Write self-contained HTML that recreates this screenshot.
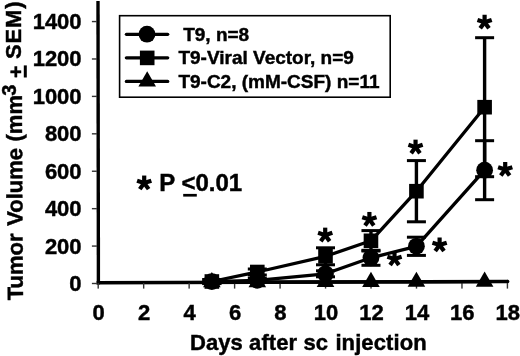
<!DOCTYPE html>
<html><head><meta charset="utf-8"><style>
html,body{margin:0;padding:0;background:#fff;}
body{width:520px;height:356px;overflow:hidden;}
svg{display:block;will-change:transform;}
.t{font-family:"Liberation Sans",sans-serif;font-weight:bold;fill:#000;stroke:#000;stroke-width:0.45px;}
</style></head><body>
<svg width="520" height="356" viewBox="0 0 520 356">
<polygon points="96.3,1 99.7,1 100.1,284.6 96.7,284.6" fill="#000"/>
<polygon points="96.6,280.9 508.2,279.8 508.2,283.3 96.6,284.6" fill="#000"/>
<circle cx="507.6" cy="281.55" r="1.75" fill="#000"/>
<rect x="91.9" y="282.80" width="5" height="1.4" fill="#333"/>
<text x="81.6" y="291.00" text-anchor="end" class="t" font-size="22">0</text>
<rect x="91.9" y="245.38" width="5" height="1.4" fill="#333"/>
<text x="81.6" y="253.58" text-anchor="end" class="t" font-size="22">200</text>
<rect x="91.9" y="207.96" width="5" height="1.4" fill="#333"/>
<text x="81.6" y="216.16" text-anchor="end" class="t" font-size="22">400</text>
<rect x="91.9" y="170.54" width="5" height="1.4" fill="#333"/>
<text x="81.6" y="178.74" text-anchor="end" class="t" font-size="22">600</text>
<rect x="91.9" y="133.12" width="5" height="1.4" fill="#333"/>
<text x="81.6" y="141.32" text-anchor="end" class="t" font-size="22">800</text>
<rect x="91.9" y="95.70" width="5" height="1.4" fill="#333"/>
<text x="81.6" y="103.90" text-anchor="end" class="t" font-size="22">1000</text>
<rect x="91.9" y="58.28" width="5" height="1.4" fill="#333"/>
<text x="81.6" y="66.48" text-anchor="end" class="t" font-size="22">1200</text>
<rect x="91.9" y="20.86" width="5" height="1.4" fill="#333"/>
<text x="81.6" y="29.06" text-anchor="end" class="t" font-size="22">1400</text>
<rect x="97.50" y="283" width="1.4" height="5.6" fill="#333"/>
<text x="98.60" y="319.6" text-anchor="middle" class="t" font-size="22">0</text>
<rect x="142.97" y="283" width="1.4" height="5.6" fill="#333"/>
<text x="144.07" y="319.6" text-anchor="middle" class="t" font-size="22">2</text>
<rect x="188.44" y="283" width="1.4" height="5.6" fill="#333"/>
<text x="189.54" y="319.6" text-anchor="middle" class="t" font-size="22">4</text>
<rect x="233.91" y="283" width="1.4" height="5.6" fill="#333"/>
<text x="235.01" y="319.6" text-anchor="middle" class="t" font-size="22">6</text>
<rect x="279.38" y="283" width="1.4" height="5.6" fill="#333"/>
<text x="280.48" y="319.6" text-anchor="middle" class="t" font-size="22">8</text>
<rect x="324.85" y="283" width="1.4" height="5.6" fill="#333"/>
<text x="325.95" y="319.6" text-anchor="middle" class="t" font-size="22">10</text>
<rect x="370.32" y="283" width="1.4" height="5.6" fill="#333"/>
<text x="371.42" y="319.6" text-anchor="middle" class="t" font-size="22">12</text>
<rect x="415.79" y="283" width="1.4" height="5.6" fill="#333"/>
<text x="416.89" y="319.6" text-anchor="middle" class="t" font-size="22">14</text>
<rect x="461.26" y="283" width="1.4" height="5.6" fill="#333"/>
<text x="462.36" y="319.6" text-anchor="middle" class="t" font-size="22">16</text>
<rect x="506.73" y="283" width="1.4" height="5.6" fill="#333"/>
<text x="507.83" y="319.6" text-anchor="middle" class="t" font-size="22">18</text>
<text x="189.9" y="350.2" class="t" font-size="22" letter-spacing="0.1">Days after sc <tspan dx="1">injection</tspan></text>
<text transform="translate(22.9,300.24) rotate(-90.3)" class="t" font-size="22">Tumor<tspan dx="1.5"> Volume</tspan><tspan dx="0.4"> (mm</tspan></text>
<text transform="translate(16.2,95.7) rotate(-90)" class="t" font-size="20">3</text>
<text transform="translate(22.9,78.0) rotate(-90)" class="t" font-size="21">+</text>
<rect x="23.8" y="65.4" width="3.0" height="12.1" fill="#000"/>
<text transform="translate(21.3,58.9) rotate(-90)" class="t" font-size="22" letter-spacing="0.8">SEM)</text>
<polyline points="211.85,282.20 257.31,282.10 325.50,282.00 370.96,281.90 416.42,281.80 484.61,281.60" fill="none" stroke="#000" stroke-width="3.3" stroke-linejoin="round"/>
<polyline points="211.85,281.60 257.31,280.30 325.50,273.80 370.96,257.80 416.42,246.30 484.61,170.20" fill="none" stroke="#000" stroke-width="3.3" stroke-linejoin="round"/>
<polyline points="211.85,281.50 257.31,272.00 325.50,256.30 370.96,240.80 416.42,191.20 484.61,107.20" fill="none" stroke="#000" stroke-width="3.3" stroke-linejoin="round"/>
<line x1="211.85" y1="279.50" x2="211.85" y2="283.50" stroke="#000" stroke-width="3.4"/><line x1="202.35" y1="279.50" x2="221.35" y2="279.50" stroke="#000" stroke-width="3"/><line x1="202.35" y1="283.50" x2="221.35" y2="283.50" stroke="#000" stroke-width="3"/>
<line x1="257.31" y1="269.00" x2="257.31" y2="275.00" stroke="#000" stroke-width="3.4"/><line x1="247.81" y1="269.00" x2="266.81" y2="269.00" stroke="#000" stroke-width="3"/><line x1="247.81" y1="275.00" x2="266.81" y2="275.00" stroke="#000" stroke-width="3"/>
<line x1="325.50" y1="247.80" x2="325.50" y2="264.80" stroke="#000" stroke-width="3.4"/><line x1="316.00" y1="247.80" x2="335.00" y2="247.80" stroke="#000" stroke-width="3"/><line x1="316.00" y1="264.80" x2="335.00" y2="264.80" stroke="#000" stroke-width="3"/>
<line x1="370.96" y1="230.60" x2="370.96" y2="251.00" stroke="#000" stroke-width="3.4"/><line x1="361.46" y1="230.60" x2="380.46" y2="230.60" stroke="#000" stroke-width="3"/><line x1="361.46" y1="251.00" x2="380.46" y2="251.00" stroke="#000" stroke-width="3"/>
<line x1="416.42" y1="160.60" x2="416.42" y2="221.80" stroke="#000" stroke-width="3.4"/><line x1="406.92" y1="160.60" x2="425.92" y2="160.60" stroke="#000" stroke-width="3"/><line x1="406.92" y1="221.80" x2="425.92" y2="221.80" stroke="#000" stroke-width="3"/>
<line x1="484.61" y1="37.70" x2="484.61" y2="176.70" stroke="#000" stroke-width="3.4"/><line x1="475.11" y1="37.70" x2="494.11" y2="37.70" stroke="#000" stroke-width="3"/><line x1="475.11" y1="176.70" x2="494.11" y2="176.70" stroke="#000" stroke-width="3"/>
<line x1="211.85" y1="279.60" x2="211.85" y2="283.60" stroke="#000" stroke-width="3.4"/><line x1="202.35" y1="279.60" x2="221.35" y2="279.60" stroke="#000" stroke-width="3"/><line x1="202.35" y1="283.60" x2="221.35" y2="283.60" stroke="#000" stroke-width="3"/>
<line x1="257.31" y1="278.30" x2="257.31" y2="282.30" stroke="#000" stroke-width="3.4"/><line x1="247.81" y1="278.30" x2="266.81" y2="278.30" stroke="#000" stroke-width="3"/><line x1="247.81" y1="282.30" x2="266.81" y2="282.30" stroke="#000" stroke-width="3"/>
<line x1="325.50" y1="270.80" x2="325.50" y2="276.80" stroke="#000" stroke-width="3.4"/><line x1="316.00" y1="270.80" x2="335.00" y2="270.80" stroke="#000" stroke-width="3"/><line x1="316.00" y1="276.80" x2="335.00" y2="276.80" stroke="#000" stroke-width="3"/>
<line x1="370.96" y1="250.30" x2="370.96" y2="265.30" stroke="#000" stroke-width="3.4"/><line x1="361.46" y1="250.30" x2="380.46" y2="250.30" stroke="#000" stroke-width="3"/><line x1="361.46" y1="265.30" x2="380.46" y2="265.30" stroke="#000" stroke-width="3"/>
<line x1="416.42" y1="237.20" x2="416.42" y2="255.40" stroke="#000" stroke-width="3.4"/><line x1="406.92" y1="237.20" x2="425.92" y2="237.20" stroke="#000" stroke-width="3"/><line x1="406.92" y1="255.40" x2="425.92" y2="255.40" stroke="#000" stroke-width="3"/>
<line x1="484.61" y1="140.70" x2="484.61" y2="199.70" stroke="#000" stroke-width="3.4"/><line x1="475.11" y1="140.70" x2="494.11" y2="140.70" stroke="#000" stroke-width="3"/><line x1="475.11" y1="199.70" x2="494.11" y2="199.70" stroke="#000" stroke-width="3"/>
<polygon points="211.85,272.07 220.65,287.27 203.05,287.27" fill="#000"/>
<polygon points="257.31,271.97 266.11,287.17 248.51,287.17" fill="#000"/>
<polygon points="325.50,271.87 334.30,287.07 316.70,287.07" fill="#000"/>
<polygon points="370.96,271.77 379.76,286.97 362.16,286.97" fill="#000"/>
<polygon points="416.42,271.67 425.22,286.87 407.62,286.87" fill="#000"/>
<polygon points="484.61,271.47 493.41,286.67 475.81,286.67" fill="#000"/>
<circle cx="211.85" cy="281.60" r="8.4" fill="#000"/>
<circle cx="257.31" cy="280.30" r="8.4" fill="#000"/>
<circle cx="325.50" cy="273.80" r="8.4" fill="#000"/>
<circle cx="370.96" cy="257.80" r="8.4" fill="#000"/>
<circle cx="416.42" cy="246.30" r="8.4" fill="#000"/>
<circle cx="484.61" cy="170.20" r="8.4" fill="#000"/>
<rect x="204.55" y="274.20" width="14.6" height="14.6" fill="#000"/>
<rect x="250.01" y="264.70" width="14.6" height="14.6" fill="#000"/>
<rect x="318.20" y="249.00" width="14.6" height="14.6" fill="#000"/>
<rect x="363.66" y="233.50" width="14.6" height="14.6" fill="#000"/>
<rect x="409.12" y="183.90" width="14.6" height="14.6" fill="#000"/>
<rect x="477.31" y="99.90" width="14.6" height="14.6" fill="#000"/>
<g fill="#000"><polygon points="486.70,23.25 486.70,14.75 482.50,14.75 482.50,23.25"/><polygon points="484.30,24.56 492.38,21.93 491.08,17.93 483.00,20.56"/><polygon points="482.31,22.67 487.31,29.55 490.71,27.08 485.71,20.21"/><polygon points="483.49,20.21 478.49,27.08 481.89,29.55 486.89,22.67"/><polygon points="486.20,20.56 478.12,17.93 476.82,21.93 484.90,24.56"/><circle cx="484.60" cy="22.25" r="2.60"/></g>
<g fill="#000"><polygon points="507.30,170.50 507.30,162.00 503.10,162.00 503.10,170.50"/><polygon points="504.90,171.81 512.98,169.18 511.68,165.18 503.60,167.81"/><polygon points="502.91,169.92 507.91,176.80 511.31,174.33 506.31,167.46"/><polygon points="504.09,167.46 499.09,174.33 502.49,176.80 507.49,169.92"/><polygon points="506.80,167.81 498.72,165.18 497.42,169.18 505.50,171.81"/><circle cx="505.20" cy="169.50" r="2.60"/></g>
<g fill="#000"><polygon points="417.65,148.15 417.65,139.65 413.45,139.65 413.45,148.15"/><polygon points="415.25,149.46 423.33,146.83 422.03,142.83 413.95,145.46"/><polygon points="413.26,147.57 418.26,154.45 421.66,151.98 416.66,145.11"/><polygon points="414.44,145.11 409.44,151.98 412.84,154.45 417.84,147.57"/><polygon points="417.15,145.46 409.07,142.83 407.77,146.83 415.85,149.46"/><circle cx="415.55" cy="147.15" r="2.60"/></g>
<g fill="#000"><polygon points="441.70,246.00 441.70,237.50 437.50,237.50 437.50,246.00"/><polygon points="439.30,247.31 447.38,244.68 446.08,240.68 438.00,243.31"/><polygon points="437.31,245.42 442.31,252.30 445.71,249.83 440.71,242.96"/><polygon points="438.49,242.96 433.49,249.83 436.89,252.30 441.89,245.42"/><polygon points="441.20,243.31 433.12,240.68 431.82,244.68 439.90,247.31"/><circle cx="439.60" cy="245.00" r="2.60"/></g>
<g fill="#000"><polygon points="371.50,220.45 371.50,211.95 367.30,211.95 367.30,220.45"/><polygon points="369.10,221.76 377.18,219.13 375.88,215.13 367.80,217.76"/><polygon points="367.11,219.87 372.11,226.75 375.51,224.28 370.51,217.41"/><polygon points="368.29,217.41 363.29,224.28 366.69,226.75 371.69,219.87"/><polygon points="371.00,217.76 362.92,215.13 361.62,219.13 369.70,221.76"/><circle cx="369.40" cy="219.45" r="2.60"/></g>
<g fill="#000"><polygon points="396.60,259.95 396.60,251.45 392.40,251.45 392.40,259.95"/><polygon points="394.20,261.26 402.28,258.63 400.98,254.63 392.90,257.26"/><polygon points="392.21,259.37 397.21,266.25 400.61,263.78 395.61,256.91"/><polygon points="393.39,256.91 388.39,263.78 391.79,266.25 396.79,259.37"/><polygon points="396.10,257.26 388.02,254.63 386.72,258.63 394.80,261.26"/><circle cx="394.50" cy="258.95" r="2.60"/></g>
<g fill="#000"><polygon points="327.30,236.15 327.30,227.65 323.10,227.65 323.10,236.15"/><polygon points="324.90,237.46 332.98,234.83 331.68,230.83 323.60,233.46"/><polygon points="322.91,235.57 327.91,242.45 331.31,239.98 326.31,233.11"/><polygon points="324.09,233.11 319.09,239.98 322.49,242.45 327.49,235.57"/><polygon points="326.80,233.46 318.72,230.83 317.42,234.83 325.50,237.46"/><circle cx="325.20" cy="235.15" r="2.60"/></g>
<g fill="#000"><polygon points="146.30,184.05 146.30,175.55 142.10,175.55 142.10,184.05"/><polygon points="143.90,185.36 151.98,182.73 150.68,178.73 142.60,181.36"/><polygon points="141.91,183.47 146.91,190.35 150.31,187.88 145.31,181.01"/><polygon points="143.09,181.01 138.09,187.88 141.49,190.35 146.49,183.47"/><polygon points="145.80,181.36 137.72,178.73 136.42,182.73 144.50,185.36"/><circle cx="144.20" cy="183.05" r="2.60"/></g>
<rect x="119.6" y="15.7" width="270.6" height="81.5" fill="none" stroke="#000" stroke-width="1.6"/>
<line x1="126.4" y1="34.3" x2="167.7" y2="34.3" stroke="#000" stroke-width="3.3" stroke-linecap="round"/>
<line x1="126.4" y1="57.8" x2="167.7" y2="57.8" stroke="#000" stroke-width="3.3" stroke-linecap="round"/>
<line x1="126.4" y1="81.4" x2="167.7" y2="81.4" stroke="#000" stroke-width="3.3" stroke-linecap="round"/>
<circle cx="147.00" cy="34.20" r="8.4" fill="#000"/>
<rect x="139.90" y="50.60" width="14.6" height="14.6" fill="#000"/>
<polygon points="147.20,71.37 156.00,86.57 138.40,86.57" fill="#000"/>
<text x="183.2" y="41" class="t" font-size="19">T9, n=8</text>
<text x="178.4" y="64.2" class="t" font-size="19">T9-Viral Vector, n=9</text>
<text x="178.4" y="87.6" class="t" font-size="19">T9-C2, (mM-CSF) n=11</text>
<text x="159.2" y="191.3" class="t" font-size="24">P &lt;0.01</text>
<rect x="183.2" y="193.9" width="13.6" height="2.7" fill="#000"/>
</svg>
</body></html>
